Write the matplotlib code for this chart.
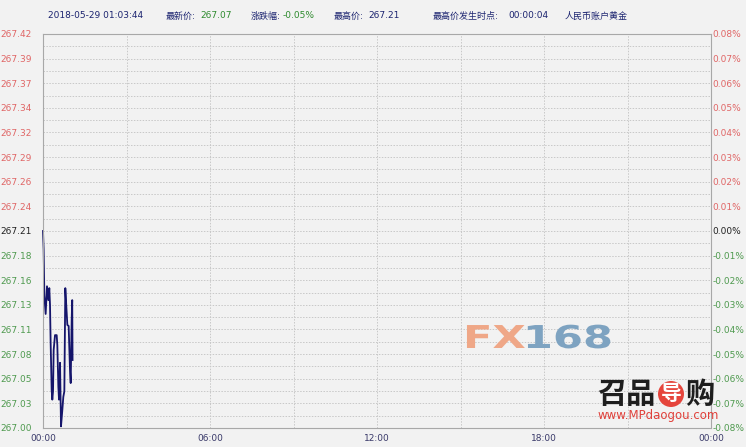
import matplotlib.pyplot as plt
from matplotlib.textpath import TextPath
from matplotlib.patches import PathPatch
from matplotlib.font_manager import FontProperties
from matplotlib.transforms import Affine2D

plt.rcParams['font.family'] = ['DejaVu Sans', 'Noto Sans CJK SC']

# reference price (0.00%) and the intraday ticks
base_price = 267.21
minutes = [0, 1.4, 2.9, 5.7, 8.6, 11.5, 13.6, 15.1, 16.5, 18.7, 20.1, 21.6,
           23.0, 25.9, 29.5, 30.9, 33.1, 34.5, 36.7, 38.8, 41.7, 43.8, 46.0,
           48.1, 50.3, 52.5, 55.3, 58.2, 59.7, 61.8, 63.0, 63.7]
prices = [267.21, 267.19, 267.14, 267.12, 267.15, 267.135, 267.148, 267.13,
          267.088, 267.037, 267.027, 267.036, 267.081, 267.097, 267.097,
          267.086, 267.041, 267.027, 267.067, 266.998, 267.016, 267.03,
          267.036, 267.148, 267.128, 267.108, 267.107, 267.059, 267.045,
          267.113, 267.135, 267.07]

# axis levels in units of 0.01 %
pct_steps = [8, 7, 6, 5, 4, 3, 2, 1, 0, -1, -2, -3, -4, -5, -6, -7, -8]
price_labels = ["267.42", "267.39", "267.37", "267.34", "267.32", "267.29",
                "267.26", "267.24", "267.21", "267.18", "267.16", "267.13",
                "267.11", "267.08", "267.05", "267.03", "267.00"]
pct_labels = ["0.08%", "0.07%", "0.06%", "0.05%", "0.04%", "0.03%", "0.02%",
              "0.01%", "0.00%", "-0.01%", "-0.02%", "-0.03%", "-0.04%",
              "-0.05%", "-0.06%", "-0.07%", "-0.08%"]
time_ticks = [0, 360, 720, 1080, 1440]
time_labels = ["00:00", "06:00", "12:00", "18:00", "00:00"]

header = [
    (48, "2018-05-29 01:03:44", "#1c2470"),
    (166, "最新价:", "#1c2470"), (200, "267.07", "#2e8b2e"),
    (251, "涨跌幅:", "#1c2470"), (283, "-0.05%", "#2e8b2e"),
    (334, "最高价:", "#1c2470"), (368, "267.21", "#1c2470"),
    (433, "最高价发生时点:", "#1c2470"), (508, "00:00:04", "#1c2470"),
    (565, "人民币账户黄金", "#1c2470"),
]

bg = "#f2f2f2"
up_col, flat_col, down_col = "#e06666", "#222222", "#4f9a4f"

W, H = 746, 447
fig = plt.figure(figsize=(W / 100, H / 100), dpi=100, facecolor=bg)
ax = fig.add_axes([43 / W, 19 / H, 668 / W, 394 / H], facecolor=bg)

levels = [base_price * (1 + s / 10000) for s in pct_steps]
ax.plot(minutes, prices, color="#15156b", lw=1.3, clip_on=False)

ax.set_xlim(0, 1440)
ax.set_ylim(levels[-1], levels[0])

ax.set_xticks(time_ticks)
ax.set_xticklabels(time_labels)
ax.set_xticks(range(0, 1441, 180), minor=True)
ax.set_yticks(levels)
ax.set_yticklabels(price_labels)
ax.set_yticks([(a + b) / 2 for a, b in zip(levels[:-1], levels[1:])], minor=True)

ax.grid(True, which="both", color="#c8c8c8", lw=0.7, ls=(0, (1.5, 1.5)))
ax.tick_params(which="both", length=0)
ax.tick_params(axis="y", pad=8, labelsize=6.5)
ax.tick_params(axis="x", pad=4, labelsize=6.5, labelcolor="#3a3a6a")
for sp in ax.spines.values():
    sp.set_color("#a8a8a8")
    sp.set_linewidth(0.8)


def level_color(s):
    return up_col if s > 0 else (flat_col if s == 0 else down_col)


for lab, s in zip(ax.get_yticklabels(), pct_steps):
    lab.set_color(level_color(s))

ax2 = ax.twinx()
ax2.set_ylim(ax.get_ylim())
ax2.set_yticks(levels)
ax2.set_yticklabels(pct_labels)
ax2.tick_params(length=0, pad=1, labelsize=6.5)
for sp in ax2.spines.values():
    sp.set_visible(False)
for lab, s in zip(ax2.get_yticklabels(), pct_steps):
    lab.set_color(level_color(s))

# header line
for x, txt, col in header:
    fig.text(x / W, 1 - 16 / H, txt, color=col, fontsize=6.5, va="center", ha="left")


# FX168 watermark (wide letters -> stretched text path)
def stretched_text(txt, x, y, h_px, sx, color):
    tp = TextPath((0, 0), txt, size=1, prop=FontProperties(family="DejaVu Sans", weight="bold"))
    tr = Affine2D().scale(h_px * sx / 100, h_px / 100).translate(x / 100, (H - y) / 100)
    fig.patches.append(PathPatch(tp, transform=tr + fig.dpi_scale_trans, fc=color, ec="none"))
    return tp.get_extents().width * h_px * sx


w = stretched_text("FX", 463, 348, 31.5, 1.37, "#efa787")
stretched_text("168", 463 + w + 2, 348, 31.5, 1.37, "#7ea3c1")

# shopping logo watermark
fig.text(597 / W, 1 - 394 / H, "召品", fontsize=21, weight="bold", color="#1e1e1e",
         family=["Noto Sans CJK SC"], va="center", ha="left")
fig.text(671 / W, 1 - 394 / H, "导", fontsize=15, weight="bold", color="white",
         family=["Noto Sans CJK SC"], va="center", ha="center",
         bbox=dict(boxstyle="circle,pad=0.12", fc="#e5453c", ec="none"))
fig.text(685 / W, 1 - 394 / H, "购", fontsize=21, weight="bold", color="#1e1e1e",
         family=["Noto Sans CJK SC"], va="center", ha="left")
fig.text(598 / W, 1 - 416 / H, "www.MPdaogou.com", fontsize=8.5, color="#e0403a",
         va="center", ha="left")

fig.savefig("out.png", dpi=100, facecolor=bg)
